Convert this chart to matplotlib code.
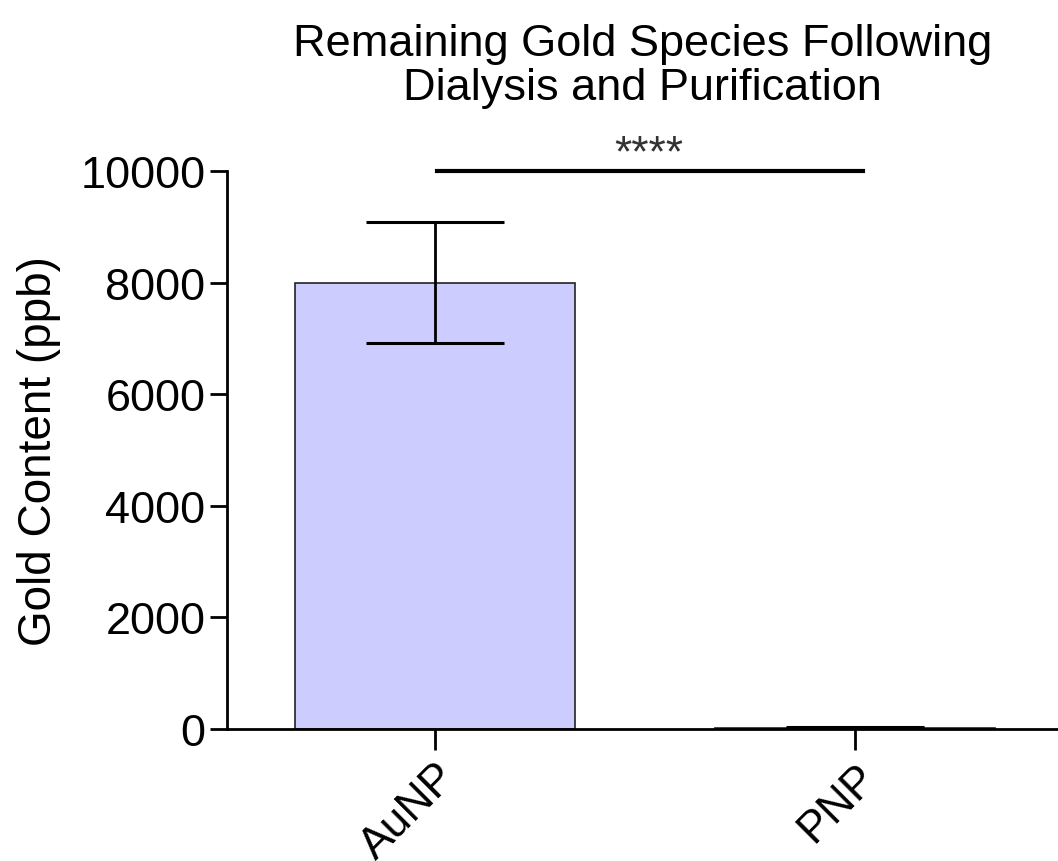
import matplotlib.pyplot as plt

plt.rcParams['font.family'] = ['Liberation Sans', 'DejaVu Sans']

categories = ['AuNP', 'PNP']
means = [8000, 25]
errors = [1085, 8]

fig = plt.figure(figsize=(10.58, 8.62), dpi=100)
ax = fig.add_axes([0.2146, 0.153, 0.7854, 0.6475])

x = list(range(len(categories)))
ax.bar(x, means, width=0.667, color='#ccccff', edgecolor='#222222', linewidth=1.2, zorder=2)
ax.errorbar(x, means, yerr=errors, fmt='none', ecolor='black', elinewidth=2, capsize=50, capthick=2.2, zorder=3)

ax.set_xlim(-0.495, 1.483)
ax.set_ylim(0, 10000)
ax.set_yticks([0, 2000, 4000, 6000, 8000, 10000])
ax.set_xticks(x)
ax.set_xticklabels(categories, rotation=45, ha='right', rotation_mode='anchor', fontsize=32)
ax.tick_params(axis='y', labelsize=32.5, width=2, length=12)
ax.tick_params(axis='x', width=2, length=15, pad=4)

for side in ['top', 'right']:
    ax.spines[side].set_visible(False)
for side in ['left', 'bottom']:
    ax.spines[side].set_linewidth(2)

ax.set_ylabel('Gold Content (ppb)', fontsize=33, labelpad=14)
ax.set_title('Remaining Gold Species Following\nDialysis and Purification', fontsize=32.5,
             pad=52, linespacing=1.08)

# significance bar
ax.plot([0.005, 1.02], [10000, 10000], color='black', linewidth=3, clip_on=False, zorder=4)
ax.text(0.51, 10300, '****', ha='center', va='center', fontsize=32, color='#333333')

fig.savefig('out.png', dpi=100)
